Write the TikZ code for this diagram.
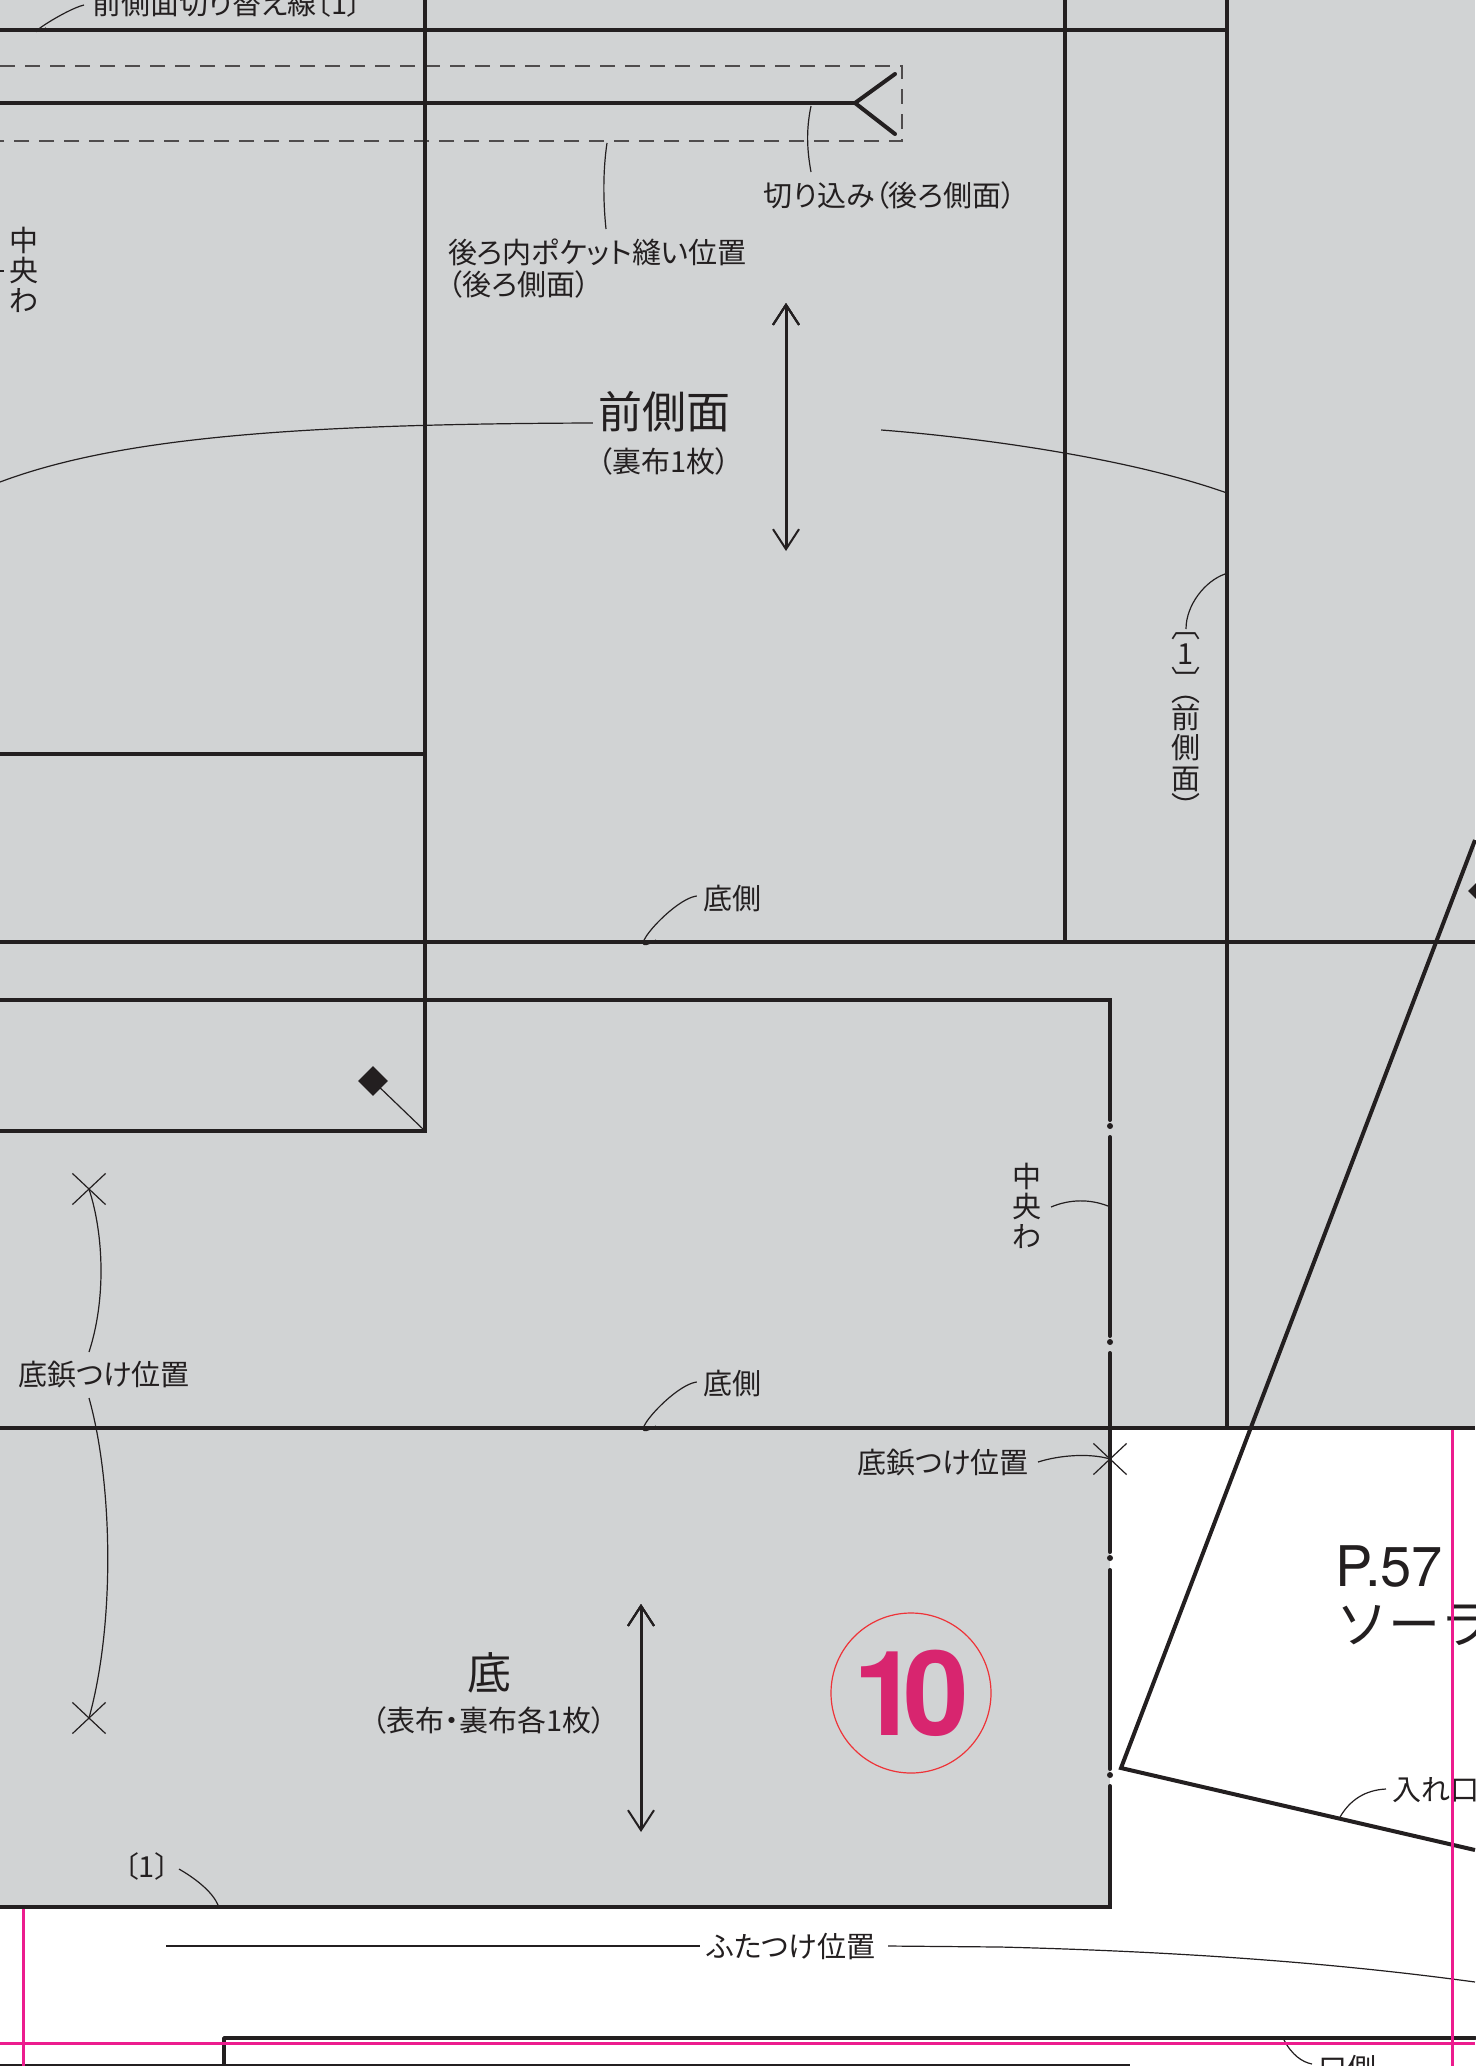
\documentclass[tikz,border=0pt]{standalone}
\usepackage{fontspec}
\newfontfamily\cjk[RawFeature=+palt]{Noto Sans CJK JP}
\newfontfamily\cjkv{Noto Sans CJK JP}
\newfontfamily\heros{TeX Gyre Heros}
\usetikzlibrary{arrows.meta,positioning,shapes.geometric,shapes.misc}
\definecolor{sheet}{HTML}{D1D3D4}
\definecolor{ink}{HTML}{231F20}
\definecolor{guide}{HTML}{EC1C8E}
\definecolor{badge}{HTML}{D8256F}
\definecolor{ring}{HTML}{EE3338}

\begin{document}
\begin{tikzpicture}[x=1pt,y=-1pt,
    cut/.style={draw=ink,line width=4pt},
    lead/.style={draw=ink,line width=1.2pt},
    lab/.style={font=\cjk\fontsize{29}{32}\selectfont,text=ink,inner sep=0pt},
    stack/.style={font=\cjkv\fontsize{29}{30}\selectfont,text=ink,inner sep=0pt,align=center},
    ttl/.style={font=\cjkv\fontsize{44}{46}\selectfont,text=ink,inner sep=0pt},
    grain/.style={draw=ink,line width=3pt,{Straight Barb[length=20pt,width=26pt,line width=2pt]}-{Straight Barb[length=20pt,width=26pt,line width=2pt]}},
    rivet/.style={cross out,draw=ink,line width=1.2pt,minimum width=32pt,minimum height=30pt,inner sep=0pt},
    mark/.style={}]

                \useasboundingbox (0,0) rectangle (1475,2066);

                \fill[sheet] (0,0) rectangle (1475,1428);

                \fill[sheet] (0,1428) rectangle (1110,1907);

                % pocket stitching
                \draw[draw=ink!80,line width=1.2pt,dash pattern=on 15pt off 10pt] (0,66) -- (902,66) -- (902,141) -- (0,141);

                % pattern outlines
                \draw[cut] (0,30) -- (1227,30);

                \draw[cut] (425,0) -- (425,1131) -- (0,1131);

                \draw[cut] (1065,0) -- (1065,942);

                \draw[cut] (1227,0) -- (1227,1428);

                \draw[cut] (0,942) -- (1475,942);

                \draw[cut] (0,754) -- (425,754);

                \draw[cut] (0,1428) -- (1110,1428);

                \draw[cut] (1110,1428) -- (1475,1428);

                \draw[cut] (0,103) -- (855,103);

                \draw[cut,line cap=round] (895,74) -- (855,103) -- (895,134);

                \draw[cut,line cap=round] (0,1000) -- (1110,1000) -- (1110,1120);

                \foreach \a/\b in {1137/1336,1353/1552,1570/1769}
                    \draw[cut,line cap=round] (1110,\a) -- (1110,\b);

                \draw[cut,line cap=round] (1110,1786) -- (1110,1907) -- (0,1907);

                \foreach \y in {1126,1342,1558,1775}
                    \fill[ink] (1110,\y) circle (3pt);

                \draw[cut,line join=miter] (1475,840) -- (1121,1768) -- (1475,1850);

                \draw[cut,line cap=round,miter limit=1] (224,2066) -- (224,2038) -- (1475,2038);

                \draw[ink,line width=1.5pt] (0,2065) -- (1130,2065);

                % diamonds and notches
                \node[diamond,fill=ink,inner sep=0pt,minimum size=30pt] (dmA) at (373,1081) {};

                \node[diamond,fill=ink,inner sep=0pt,minimum size=30pt] (dmB) at (1483,891) {};

                \coordinate (dmAend) at (425,1131);

                \path[lead] (dmA.center) edge (dmAend);

                \node[rivet] (rvA) at (89,1189) {};

                \node[rivet] (rvB) at (89,1718) {};

                \node[rivet] (rvC) at (1110,1459) {};

                % labels
                \node[lab] (swLine) at (227,3) {前側面切り替え線〔1〕};

                \node[lab] (notch) at (890,195) {切り込み（後ろ側面）};

                \node[lab,anchor=west,align=left] (pocket) at (448,269) {後ろ内ポケット縫い位置\\（後ろ側面）};

                \node[stack] (foldL) at (24,270) {中\\央\\わ};

                \node[stack] (foldR) at (1027,1206) {中\\央\\わ};

                \node[ttl] (front) at (664,412) {前側面};

                \node[lab] (frontSub) [below=15pt of front] {（裏布1枚）};

                \node[ttl] (base) at (489,1673) {底};

                \node[lab] (baseSub) [below=13pt of base] {（表布・裏布各1枚）};

                \node[stack] (sideNo) at (1186,725) {︹\\[-3pt]1\\[-3pt]︺\\[-20pt]︵\\[-3pt]前\\側\\[1pt]面\\[-2pt]︶};

                \node[lab] (baseA) at (732,899) {底側};

                \node[lab] (baseB) at (732,1384) {底側};

                \node[lab] (rivetL) at (104,1375) {底鋲つけ位置};

                \node[lab] (rivetR) at (943,1463) {底鋲つけ位置};

                \node[lab] (cnt) at (147,1866) {〔1〕};

                \node[lab] (lid) at (791,1947) {ふたつけ位置};

                \node[font=\heros\fontsize{56}{58}\selectfont,text=ink,inner sep=0pt,anchor=west] (page) at (1335,1566) {P.57};

                \node[font=\cjkv\fontsize{52}{54}\selectfont,text=ink,inner sep=0pt,anchor=west] (title) at (1336,1625) {ソーラ};

                \node[font=\cjkv\fontsize{29}{32}\selectfont,text=ink,inner sep=0pt,anchor=west] (mouth) at (1392,1790) {入れ口};

                \node[font=\cjkv\fontsize{29}{32}\selectfont,text=ink,inner sep=0pt,anchor=west] (mouthB) at (1318,2069) {口側};

                % badge
                \node[circle,draw=ring,line width=1.2pt,minimum size=160pt,inner sep=0pt] (nr) at (911,1693) {};

                \node[font=\heros\bfseries\fontsize{118}{118}\selectfont,text=badge,inner sep=0pt] (nrText) at (nr) {1\kern-16pt 0};

                % grain arrows
                \coordinate (frontA) at (786,303);

                \coordinate (frontB) at (786,551);

                \coordinate (baseUp) at (641,1604);

                \coordinate (baseDn) at (641,1832);

                \path[grain] (frontA) edge (frontB);

                \path[grain] (baseUp) edge (baseDn);

                % leaders
                \draw[lead] (swLine.west) ++(-8,2) .. controls +(-18,4) and +(-30,14) .. (46,28);

                \draw[lead] (607,143) .. controls (603,170) and (603,200) .. (606,229);

                \draw[lead] (811,106) .. controls (806,130) and (807,150) .. (811,172);

                \draw[lead] ([xshift=-5pt]front.west) ++(0,11) .. controls (300,424) and (120,437) .. (0,482);

                \draw[lead] ([xshift=21pt]front.east) ++(130,18) .. controls (960,436) and (1120,455) .. (1227,493);

                \draw[lead] (1186,629) .. controls (1186,605) and (1205,581) .. (1225,574);

                \draw[lead] (baseA.west) ++(-6,-3) .. controls +(-25,3) and +(-37,22) .. (656,940);

                \draw[lead] (baseB.west) ++(-6,-2) .. controls +(-25,3) and +(-37,22) .. (656,1426);

                \draw[lead] (rvA.center) .. controls (104,1235) and (106,1300) .. (89,1352);

                \draw[lead] (89,1398) .. controls (112,1480) and (116,1620) .. (rvB.center);

                \draw[lead] (1051,1207) .. controls (1070,1199) and (1090,1199) .. (1108,1206);

                \draw[lead] (1038,1462) .. controls (1060,1455) and (1090,1453) .. (rvC.center);

                \draw[lead] (179,1869) .. controls (198,1880) and (213,1893) .. (218,1905);

                \draw[lead] (1386,1789) .. controls (1365,1790) and (1350,1800) .. (1340,1817);

                \draw[lead] (1284,2040) .. controls (1292,2055) and (1302,2062) .. (1312,2064);

                \draw[lead,line width=1.5pt] (166,1946) -- (700,1946);

                \draw[lead] (888,1946) -- (1000,1947) .. controls (1200,1952) and (1350,1965) .. (1475,1982);

                \draw[lead] (0,271) -- (4,271);

                % trim guides
                \draw[guide,line width=3pt] (23,1909) -- (23,2066);

                \draw[guide,line width=3pt] (1452,1430) -- (1452,2066);

                \draw[guide,line width=3pt] (0,2043) -- (1475,2043);

\end{tikzpicture}
\end{document}
